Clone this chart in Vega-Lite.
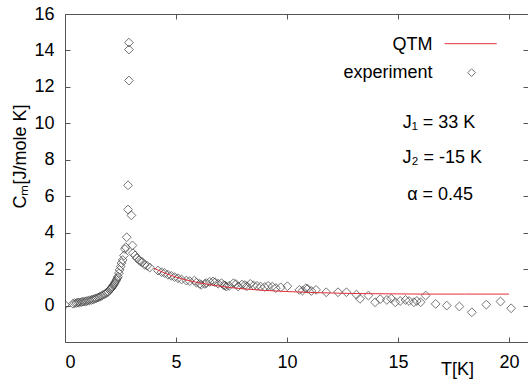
{
  "$schema": "https://vega.github.io/schema/vega-lite/v6.json",
  "width": 463,
  "height": 328,
  "autosize": {"type": "none"},
  "padding": {"left": 65, "top": 14, "right": 0, "bottom": 38},
  "background": "white",
  "config": {
    "view": {"stroke": "#555", "strokeWidth": 1},
    "font": "Liberation Sans",
    "axis": {
      "domain": false, "grid": false, "tickColor": "#555", "tickSize": -5, "tickWidth": 1,
      "labelFont": "Liberation Sans", "labelFontSize": 18, "labelColor": "#000",
      "titleFont": "Liberation Sans", "titleFontSize": 18, "titleFontWeight": "normal", "titleColor": "#000"
    }
  },
  "datasets": {
    "exp": [
      {"T": 0.00, "C": 0.04}, {"T": 0.36, "C": 0.10}, {"T": 0.44, "C": 0.13}, {"T": 0.52, "C": 0.14},
      {"T": 0.59, "C": 0.17}, {"T": 0.66, "C": 0.17}, {"T": 0.74, "C": 0.19}, {"T": 0.81, "C": 0.21},
      {"T": 0.89, "C": 0.22}, {"T": 0.96, "C": 0.24}, {"T": 1.04, "C": 0.26}, {"T": 1.11, "C": 0.29},
      {"T": 1.19, "C": 0.31}, {"T": 1.26, "C": 0.34}, {"T": 1.34, "C": 0.37}, {"T": 1.41, "C": 0.40},
      {"T": 1.49, "C": 0.44}, {"T": 1.56, "C": 0.48}, {"T": 1.64, "C": 0.53}, {"T": 1.71, "C": 0.58},
      {"T": 1.79, "C": 0.63}, {"T": 1.86, "C": 0.68}, {"T": 1.94, "C": 0.74}, {"T": 2.01, "C": 0.86},
      {"T": 2.05, "C": 0.91}, {"T": 2.09, "C": 0.96}, {"T": 2.13, "C": 1.02}, {"T": 2.16, "C": 1.08},
      {"T": 2.20, "C": 1.15}, {"T": 2.24, "C": 1.23}, {"T": 2.28, "C": 1.32}, {"T": 2.32, "C": 1.41},
      {"T": 2.36, "C": 1.50}, {"T": 2.39, "C": 1.59}, {"T": 2.43, "C": 1.78}, {"T": 2.46, "C": 1.96},
      {"T": 2.51, "C": 2.14}, {"T": 2.54, "C": 2.33}, {"T": 2.60, "C": 2.50}, {"T": 2.66, "C": 2.75},
      {"T": 2.70, "C": 3.10}, {"T": 2.74, "C": 3.20}, {"T": 2.78, "C": 3.75}, {"T": 2.84, "C": 5.27},
      {"T": 2.84, "C": 6.60}, {"T": 2.88, "C": 14.43}, {"T": 2.88, "C": 14.05}, {"T": 2.88, "C": 12.35},
      {"T": 2.99, "C": 4.95}, {"T": 3.04, "C": 3.30}, {"T": 3.06, "C": 2.88}, {"T": 3.15, "C": 2.75},
      {"T": 3.24, "C": 2.60}, {"T": 3.34, "C": 2.50}, {"T": 3.40, "C": 2.42}, {"T": 3.49, "C": 2.38},
      {"T": 3.59, "C": 2.23}, {"T": 3.70, "C": 2.18}, {"T": 3.82, "C": 2.09}, {"T": 4.19, "C": 1.92},
      {"T": 4.35, "C": 1.83}, {"T": 4.49, "C": 1.78}, {"T": 4.64, "C": 1.69}, {"T": 4.79, "C": 1.63},
      {"T": 4.94, "C": 1.56}, {"T": 5.09, "C": 1.50}, {"T": 5.25, "C": 1.43}, {"T": 5.47, "C": 1.37},
      {"T": 5.62, "C": 1.34}, {"T": 5.83, "C": 1.37}, {"T": 5.92, "C": 1.26}, {"T": 6.07, "C": 1.19},
      {"T": 6.14, "C": 1.14}, {"T": 6.30, "C": 1.19}, {"T": 6.37, "C": 1.23}, {"T": 6.52, "C": 1.30},
      {"T": 6.67, "C": 1.32}, {"T": 6.76, "C": 1.28}, {"T": 6.90, "C": 1.20}, {"T": 7.05, "C": 1.23},
      {"T": 7.15, "C": 1.12}, {"T": 7.21, "C": 1.10}, {"T": 7.27, "C": 1.04}, {"T": 7.40, "C": 1.08},
      {"T": 7.59, "C": 1.23}, {"T": 7.70, "C": 1.18}, {"T": 7.80, "C": 1.05}, {"T": 7.97, "C": 1.15},
      {"T": 8.10, "C": 1.12}, {"T": 8.20, "C": 1.06}, {"T": 8.35, "C": 1.19}, {"T": 8.50, "C": 1.10},
      {"T": 8.65, "C": 1.08}, {"T": 8.81, "C": 1.04}, {"T": 9.00, "C": 1.02}, {"T": 9.15, "C": 1.08},
      {"T": 9.34, "C": 1.04}, {"T": 9.50, "C": 0.96}, {"T": 9.72, "C": 1.00}, {"T": 10.02, "C": 1.06},
      {"T": 10.56, "C": 0.86}, {"T": 10.70, "C": 0.82}, {"T": 10.85, "C": 0.95}, {"T": 10.93, "C": 0.92},
      {"T": 11.10, "C": 0.80}, {"T": 11.31, "C": 0.86}, {"T": 11.77, "C": 0.73}, {"T": 12.30, "C": 0.73},
      {"T": 12.68, "C": 0.73}, {"T": 13.13, "C": 0.60}, {"T": 13.29, "C": 0.37}, {"T": 13.67, "C": 0.55},
      {"T": 13.97, "C": 0.18}, {"T": 14.20, "C": 0.35}, {"T": 14.50, "C": 0.31}, {"T": 14.70, "C": 0.38},
      {"T": 14.88, "C": 0.18}, {"T": 15.10, "C": 0.25}, {"T": 15.34, "C": 0.31}, {"T": 15.50, "C": 0.25},
      {"T": 15.72, "C": 0.18}, {"T": 15.85, "C": 0.25}, {"T": 16.02, "C": 0.18}, {"T": 16.25, "C": 0.55},
      {"T": 16.70, "C": 0.09}, {"T": 17.20, "C": 0.00}, {"T": 17.77, "C": -0.05}, {"T": 18.33, "C": -0.37},
      {"T": 18.98, "C": 0.05}, {"T": 19.62, "C": 0.22}, {"T": 20.10, "C": -0.15}
    ],
    "qtm": [
      {"T": 4.0, "C": 2.05}, {"T": 4.5, "C": 1.78}, {"T": 5.0, "C": 1.56}, {"T": 5.5, "C": 1.39},
      {"T": 6.0, "C": 1.26}, {"T": 6.5, "C": 1.15}, {"T": 7.0, "C": 1.06}, {"T": 7.5, "C": 0.98},
      {"T": 8.0, "C": 0.92}, {"T": 9.0, "C": 0.83}, {"T": 10.0, "C": 0.77}, {"T": 11.0, "C": 0.72},
      {"T": 12.0, "C": 0.69}, {"T": 13.0, "C": 0.66}, {"T": 14.0, "C": 0.65}, {"T": 15.0, "C": 0.64},
      {"T": 16.0, "C": 0.63}, {"T": 18.0, "C": 0.63}, {"T": 20.0, "C": 0.63}
    ],
    "legline": [{"T": 17.10, "T2": 19.45, "C": 14.37}],
    "legpt": [{"T": 18.32, "C": 12.78}],
    "rlabels": [
      {"T": 16.56, "C": 14.32, "label": "QTM"},
      {"T": 16.56, "C": 12.78, "label": "experiment"}
    ],
    "clabels": [
      {"T": 16.85, "C": 10.03, "label": "J₁ = 33 K"},
      {"T": 17.0, "C": 8.11, "label": "J₂ = -15 K"},
      {"T": 16.9, "C": 6.08, "label": "α = 0.45"}
    ]
  },
  "layer": [
    {
      "data": {"name": "exp"},
      "mark": {"type": "point", "shape": "diamond", "size": 78, "filled": false, "color": "#3a3a3a", "strokeWidth": 1, "clip": true},
      "encoding": {
        "x": {"field": "T", "type": "quantitative",
          "scale": {"domain": [0, 20.86], "nice": false, "zero": false},
          "axis": {"orient": "bottom", "values": [0, 5, 10, 15, 20], "labelPadding": 25, "labelBaseline": "middle",
            "title": "T[K]", "titleX": 392, "titleY": 32, "titleBaseline": "alphabetic", "titleAlign": "center"}},
        "y": {"field": "C", "type": "quantitative",
          "scale": {"domain": [-2, 16], "nice": false, "zero": false},
          "axis": {"orient": "left", "values": [0, 2, 4, 6, 8, 10, 12, 14, 16], "labelPadding": 16,
            "title": "Cₘ[J/mole K]", "titleX": -45, "titleY": 142, "titleBaseline": "middle", "titleAlign": "center", "titleAngle": -90}}
      }
    },
    {
      "data": {"name": "qtm"},
      "mark": {"type": "line", "color": "#e0303a", "strokeWidth": 1, "clip": true},
      "encoding": {
        "x": {"field": "T", "type": "quantitative",
          "axis": {"orient": "top", "values": [0, 5, 10, 15, 20], "labels": false, "title": null}},
        "y": {"field": "C", "type": "quantitative",
          "axis": {"orient": "right", "values": [0, 2, 4, 6, 8, 10, 12, 14, 16], "labels": false, "title": null}}
      }
    },
    {
      "data": {"name": "legline"},
      "mark": {"type": "rule", "color": "#e0303a", "strokeWidth": 1},
      "encoding": {
        "x": {"field": "T", "type": "quantitative", "axis": null},
        "x2": {"field": "T2"},
        "y": {"field": "C", "type": "quantitative", "axis": null}
      }
    },
    {
      "data": {"name": "legpt"},
      "mark": {"type": "point", "shape": "diamond", "size": 60, "filled": false, "color": "#3a3a3a", "strokeWidth": 1},
      "encoding": {
        "x": {"field": "T", "type": "quantitative", "axis": null},
        "y": {"field": "C", "type": "quantitative", "axis": null}
      }
    },
    {
      "data": {"name": "rlabels"},
      "mark": {"type": "text", "align": "right", "baseline": "middle", "fontSize": 18, "font": "Liberation Sans", "color": "#000"},
      "encoding": {
        "x": {"field": "T", "type": "quantitative", "axis": null},
        "y": {"field": "C", "type": "quantitative", "axis": null},
        "text": {"field": "label"}
      }
    },
    {
      "data": {"name": "clabels"},
      "mark": {"type": "text", "align": "center", "baseline": "middle", "fontSize": 18, "font": "Liberation Sans", "color": "#000"},
      "encoding": {
        "x": {"field": "T", "type": "quantitative", "axis": null},
        "y": {"field": "C", "type": "quantitative", "axis": null},
        "text": {"field": "label"}
      }
    }
  ]
}
